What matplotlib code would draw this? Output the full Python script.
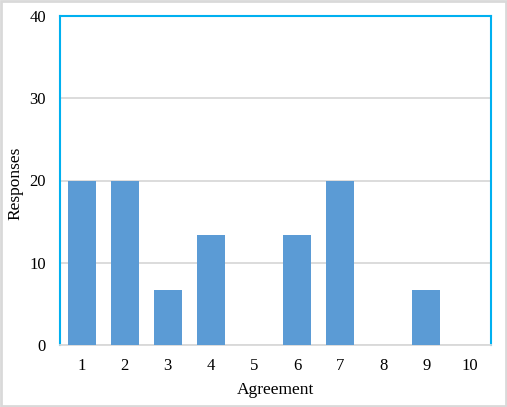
import matplotlib
matplotlib.use("Agg")
import matplotlib.pyplot as plt
from matplotlib.patches import Rectangle

categories = ["1", "2", "3", "4", "5", "6", "7", "8", "9", "10"]
responses = [20, 20, 6.67, 13.33, 0, 13.33, 20, 0, 6.67, 0]
yticks = [0, 10, 20, 30, 40]

plt.rcParams["font.family"] = ["Liberation Serif", "DejaVu Serif"]

fig = plt.figure(figsize=(5.07, 4.07), dpi=100)
ax = fig.add_axes([60 / 507, 62 / 407, 431 / 507, 329 / 407])

x = list(range(1, len(categories) + 1))
ax.bar(x, responses, width=0.65, color="#5B9BD5", zorder=3)

ax.set_xlim(0.5, 10.5)
ax.set_ylim(0, 40)
ax.set_xticks(x)
ax.set_xticklabels(categories)
ax.set_yticks(yticks)
ax.tick_params(axis="both", length=0, labelsize=12)
ax.tick_params(axis="x", pad=9)
ax.tick_params(axis="y", pad=10)
ax.yaxis.grid(True, color="#D9D9D9", lw=1.3, zorder=0)

for side in ["left", "top", "right"]:
    ax.spines[side].set_color("#00B0F0")
    ax.spines[side].set_linewidth(1.5)
ax.spines["bottom"].set_color("#D9D9D9")
ax.spines["bottom"].set_linewidth(1.3)

ax.set_xlabel("Agreement", fontsize=12.5, labelpad=6)
fig.text(15 / 507, 1 - 183 / 407, "Responses", rotation=90, fontsize=12.5,
         ha="center", va="center")

# outer chart border
fig.patches.append(Rectangle((0.002, 0.002), 0.996, 0.995, transform=fig.transFigure,
                             fill=False, edgecolor="#D9D9D9", lw=2))

fig.savefig("out.png", dpi=100)
